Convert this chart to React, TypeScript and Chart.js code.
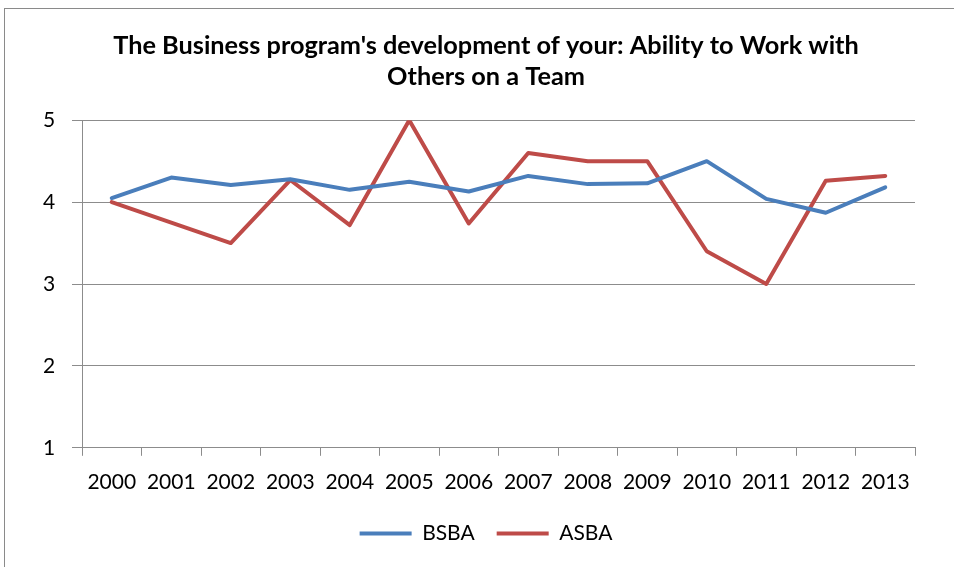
import React, { useEffect, useRef } from "react";
import { Chart, registerables } from "chart.js";

Chart.register(...registerables);

const titleLines = [
  "The Business program's development of your: Ability to Work with",
  "Others on a Team",
];
const years = ["2000", "2001", "2002", "2003", "2004", "2005", "2006", "2007", "2008", "2009", "2010", "2011", "2012", "2013"];
const bsba = [4.05, 4.3, 4.21, 4.28, 4.15, 4.25, 4.13, 4.32, 4.22, 4.23, 4.5, 4.04, 3.87, 4.18];
const asba = [4.0, 3.75, 3.5, 4.27, 3.72, 5.0, 3.74, 4.6, 4.5, 4.5, 3.4, 3.0, 4.26, 4.32];
const seriesNames = ["BSBA", "ASBA"];
const seriesColors = ["#4A7EBB", "#BE4B48"];

export default function App() {
  const ref = useRef<HTMLCanvasElement | null>(null);

  useEffect(() => {
    if (!ref.current) return;
    const gridColor = "#8C8C8C";
    const font = { family: "Lato", size: 21 };
    const chart = new Chart(ref.current, {
      type: "line",
      data: {
        labels: years,
        datasets: [bsba, asba].map((d, i) => ({
          label: seriesNames[i],
          data: d,
          borderColor: seriesColors[i],
          backgroundColor: seriesColors[i],
          borderWidth: 4,
          pointRadius: 0,
          pointHoverRadius: 0,
          tension: 0,
          fill: false,
          borderJoinStyle: "round" as const,
          borderCapStyle: "round" as const,
        })),
      },
      options: {
        responsive: false,
        animation: false,
        layout: { padding: { left: 57, right: 39, top: 0, bottom: 13 } },
        plugins: {
          tooltip: { enabled: false },
          title: {
            display: true,
            text: titleLines,
            color: "#000",
            font: { family: "Lato", size: 25.3, weight: "bold", lineHeight: 1.23 },
            padding: { top: 30, bottom: 28 },
          },
          legend: {
            position: "bottom",
            labels: {
              color: "#000",
              font,
              usePointStyle: true,
              pointStyle: "line",
              pointStyleWidth: 52,
              boxHeight: 21,
              padding: 22,
            },
          },
        },
        scales: {
          x: {
            offset: true,
            afterFit: (scale: any) => {
              scale.height = scale.height - 8;
            },
            grid: {
              offset: true,
              drawOnChartArea: false,
              drawTicks: true,
              tickLength: 8,
              color: gridColor,
            },
            border: { display: true, color: gridColor, width: 1 },
            ticks: {
              color: "#000",
              font,
              padding: 14,
              maxRotation: 0,
              autoSkip: false,
            },
          },
          y: {
            min: 1,
            max: 5,
            afterFit: (scale: any) => {
              scale.width = 25;
            },
            grid: {
              color: gridColor,
              drawTicks: true,
              tickLength: 10,
            },
            border: { display: true, color: gridColor, width: 1 },
            ticks: {
              stepSize: 1,
              color: "#000",
              font,
              mirror: true,
              padding: -39,
            },
          },
        },
      },
    });
    return () => chart.destroy();
  }, []);

  return (
    <div style={{ position: "fixed", left: 0, top: 0, width: 954, height: 567, background: "#fff" }}>
      <div
        style={{
          position: "absolute",
          left: 4,
          top: 8,
          right: 0,
          bottom: 0,
          borderLeft: "1px solid #8A8A8A",
          borderTop: "1px solid #8A8A8A",
        }}
      />
      <canvas ref={ref} width={954} height={567} style={{ position: "absolute", left: 0, top: 0 }} />
    </div>
  );
}
